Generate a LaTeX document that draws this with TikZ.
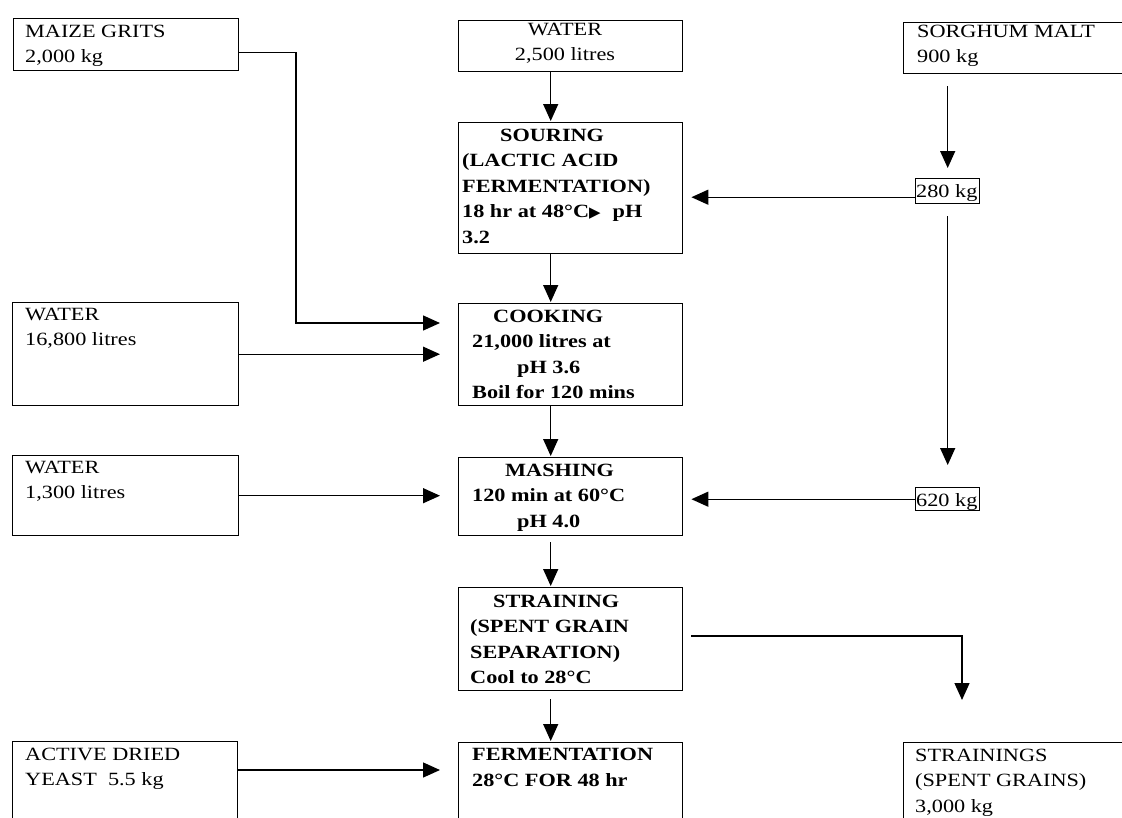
\documentclass[tikz,border=0pt]{standalone}
\usepackage{fontspec}
\setmainfont[FakeStretch=1.19]{Liberation Serif}
\newfontfamily\dejavu{DejaVu Sans}
\usetikzlibrary{arrows.meta}
\begin{document}
\begin{tikzpicture}[x=1pt,y=-1pt,
  box/.style={draw, line width=1.4pt, inner sep=0pt, anchor=north west},
  txt/.style={inner sep=0pt, anchor=base west, align=left, font=\fontsize{18.7}{25.5}\selectfont},
  btxt/.style={txt, font=\fontsize{18.7}{25.5}\selectfont\bfseries},
  conn/.style={line width=1.4pt, -{Triangle[length=17pt,width=15pt]}}]
\useasboundingbox (0,0) rectangle (1122,817);
\clip (0,0) rectangle (1122,817);
% boxes
\node[box, minimum width=225pt, minimum height=52pt] (maize) at (13,18) {};
\node[box, minimum width=224pt, minimum height=51pt] (wtop) at (458,20) {};
\node[box, minimum width=240pt, minimum height=51pt] (sorg) at (903,22) {};
\node[box, minimum width=224pt, minimum height=131pt] (sour) at (458,122) {};
\node[box, minimum width=64pt, minimum height=25pt] (k280) at (915,178) {};
\node[box, minimum width=226pt, minimum height=103pt] (w16) at (12,302) {};
\node[box, minimum width=224pt, minimum height=102pt] (cook) at (458,303) {};
\node[box, minimum width=226pt, minimum height=80pt] (w13) at (12,455) {};
\node[box, minimum width=224pt, minimum height=78pt] (mash) at (458,457) {};
\node[box, minimum width=64pt, minimum height=23pt] (k620) at (915,487) {};
\node[box, minimum width=224pt, minimum height=103pt] (strain) at (458,587) {};
\node[box, minimum width=225pt, minimum height=100pt] (yeast) at (12,741) {};
\node[box, minimum width=224pt, minimum height=100pt] (ferm) at (458,742) {};
\node[box, minimum width=240pt, minimum height=100pt] (spent) at (903,742) {};
% texts (anchor = baseline of the last line)
\node[txt] (maizeT) at (25,62.5) {MAIZE GRITS\\2,000 kg};
\node[txt, align=center, anchor=base] (wtopT) at (565,60.5) {WATER\\2,500 litres};
\node[txt] (sorgT) at (917,62.5) {SORGHUM MALT\\900 kg};
\node[btxt] (sourT) at (462,243) {\hspace*{38pt}SOURING\\(LACTIC ACID\\FERMENTATION)\\18 hr at 48°C{\dejavu\fontsize{15}{15}\selectfont ▶}\hspace{12pt}pH\\3.2};
\node[txt] (k280T) at (916,197) {280 kg};
\node[txt] (w16T) at (25,345.5) {WATER\\16,800 litres};
\node[btxt] (cookT) at (472,398.5) {\hspace*{21pt}COOKING\\21,000 litres at\\\hspace*{45pt}pH 3.6\\Boil for 120 mins};
\node[txt] (w13T) at (25,498.5) {WATER\\1,300 litres};
\node[btxt] (mashT) at (472,527) {\hspace*{33pt}MASHING\\120 min at 60°C\\\hspace*{45pt}pH 4.0};
\node[txt] (k620T) at (916,506) {620 kg};
\node[btxt] (strainT) at (470,683.5) {\hspace*{23pt}STRAINING\\(SPENT GRAIN\\SEPARATION)\\Cool to 28°C};
\node[txt] (yeastT) at (25,785.5) {ACTIVE DRIED\\YEAST\ \ 5.5 kg};
\node[btxt] (fermT) at (472,786) {FERMENTATION\\28°C FOR 48 hr};
\node[txt] (spentT) at (915,812) {STRAININGS\\(SPENT GRAINS)\\3,000 kg};
% coordinates
\coordinate (mzturn) at (296,323);
\coordinate (ylev) at (0,770);
\coordinate (l280) at ([yshift=-6pt]k280.west);
\coordinate (sturn) at (962,636);
% centre column
\draw[conn, shorten >=1pt] ([xshift=-20pt]wtop.south) -- ([xshift=-20pt]sour.north);
\draw[conn, shorten >=1pt] ([xshift=-20pt]sour.south) -- ([xshift=-20pt]cook.north);
\draw[conn, shorten >=1pt] ([xshift=-20pt]cook.south) -- ([xshift=-20pt]mash.north);
\draw[conn, shorten <=6pt, shorten >=1pt] ([xshift=-20pt]mash.south) -- ([xshift=-20pt]strain.north);
\draw[conn, shorten <=8pt, shorten >=1pt] ([xshift=-20pt]strain.south) -- ([xshift=-20pt]ferm.north);
% left inputs
\draw[conn, shorten >=18pt] ([yshift=-8pt]maize.east) -| (mzturn) -- (cook.west |- mzturn);
\draw[conn, shorten >=18pt] (w16.east) -- (cook.west |- w16.east);
\draw[conn, shorten >=18pt] (w13.east) -- (mash.west |- w13.east);
\draw[conn, shorten >=18pt] (yeast.east |- ylev) -- (ferm.west |- ylev);
% sorghum malt
\draw[conn, shorten <=12pt, shorten >=10pt] (sorg.south -| k280.north) -- (k280.north);
\draw[conn, shorten >=8pt] (l280) -- (sour.east |- l280);
\draw[conn, shorten <=12pt, shorten >=22pt] (k280.south) -- (k620.north);
\draw[conn, shorten >=8pt] (k620.west) -- (mash.east |- k620.west);
% spent grains
\draw[conn, shorten <=8pt, shorten >=42pt] (strain.east |- sturn) -- (sturn) -- (sturn |- spent.north);
\end{tikzpicture}
\end{document}
